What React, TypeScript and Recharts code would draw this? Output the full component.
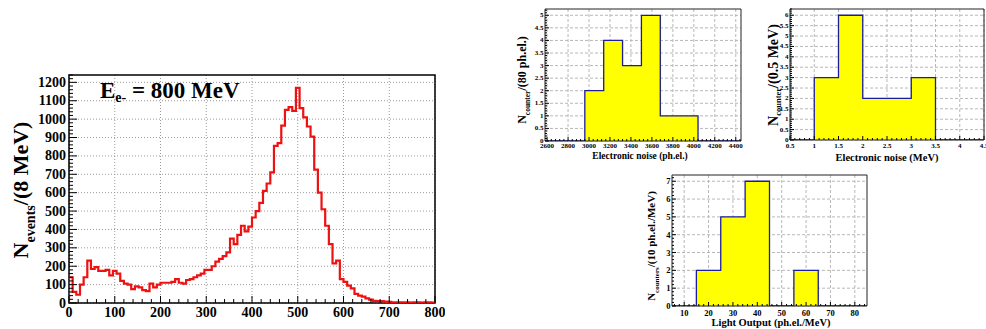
import React from 'react';
import { ComposedChart, Line, Area, XAxis, YAxis, CartesianGrid, ReferenceArea } from 'recharts';

const FONT = '"Liberation Serif", "Times New Roman", serif';

// deposited energy, 8 MeV bins from 0 to 800 MeV
const energyBinWidth = 8;
const energyCounts = [
  140, 60, 45, 100, 140, 230, 185, 195, 175, 175,
  180, 150, 175, 160, 120, 105, 100, 75, 90, 85,
  70, 65, 105, 85, 100, 110, 110, 110, 115, 130,
  110, 105, 125, 130, 140, 150, 160, 180, 180, 200,
  225, 240, 255, 275, 350, 320, 370, 420, 390, 415,
  465, 500, 545, 610, 650, 710, 855, 870, 965, 1050,
  1065, 1045, 1170, 1060, 1010, 960, 905, 725, 600, 510,
  420, 320, 215, 230, 130, 115, 95, 80, 50, 40,
  35, 25, 18, 12, 10, 10, 8, 6, 4, 3,
  3, 4, 3, 2, 3, 3, 2, 3, 3, 2,
];
const energyXTicks = [0, 100, 200, 300, 400, 500, 600, 700, 800];
const energyYTicks = [0, 100, 200, 300, 400, 500, 600, 700, 800, 900, 1000, 1100, 1200];

// electronic noise, ph.el.
const noisePhEdges = [2580, 2960, 3140, 3320, 3500, 3680, 3860, 4040, 4450];
const noisePhCounts = [0, 2, 4, 3, 5, 1, 1, 0];
const noisePhXTicks = [2600, 2800, 3000, 3200, 3400, 3600, 3800, 4000, 4200, 4400];
const noisePhYTicks = [0, 0.5, 1, 1.5, 2, 2.5, 3, 3.5, 4, 4.5, 5];

// electronic noise, MeV
const noiseMevEdges = [0.5, 1, 1.5, 2, 2.5, 3, 3.5, 4, 4.5];
const noiseMevCounts = [0, 3, 6, 2, 2, 3, 0, 0];
const noiseMevXTicks = [0.5, 1, 1.5, 2, 2.5, 3, 3.5, 4, 4.5];
const noiseMevYTicks = [0, 0.5, 1, 1.5, 2, 2.5, 3, 3.5, 4, 4.5, 5, 5.5, 6];

// light output, ph.el./MeV
const lightEdges = [5, 15, 25, 35, 45, 55, 65, 75, 85];
const lightCounts = [0, 2, 5, 7, 0, 2, 0, 0];
const lightXTicks = [10, 20, 30, 40, 50, 60, 70, 80];
const lightYTicks = [0, 1, 2, 3, 4, 5, 6, 7];

const toSteps = (edges: number[], counts: number[]) =>
  edges.map((x, i) => ({ x, n: i < counts.length ? counts[i] : counts[counts.length - 1] }));

const energySteps = [
  { x: 0, n: 0 },
  ...energyCounts.map((n, i) => ({ x: i * energyBinWidth, n })),
  { x: energyCounts.length * energyBinWidth, n: energyCounts[energyCounts.length - 1] },
];

// minor ticks between majors (k subdivisions)
function withMinor(majors: number[], k: number, lo: number, hi: number) {
  const step = (majors[1] - majors[0]) / k;
  const out: number[] = [];
  const start = majors[0] - Math.floor((majors[0] - lo) / step) * step;
  for (let v = start; v <= hi + 1e-9; v += step) out.push(Math.round(v * 1000) / 1000);
  return out;
}

const isMajor = (majors: number[], v: number) => majors.some(m => Math.abs(m - v) < 1e-6);

function makeXTick(majors: number[], fontSize: number, dy: number, len: number, minorLen: number, color = '#000') {
  return (props: any) => {
    const { x, y, payload } = props;
    const major = isMajor(majors, payload.value);
    return (
      <g>
        <line x1={x} x2={x} y1={y} y2={y - (major ? len : minorLen)} stroke={color} strokeWidth={1} />
        {major && (
          <text x={x} y={y + dy} textAnchor="middle" fontSize={fontSize} fontWeight="bold" fontFamily={FONT} fill="#000">
            {String(payload.value)}
          </text>
        )}
      </g>
    );
  };
}

function makeYTick(majors: number[], fontSize: number, gap: number, len: number, minorLen: number, color = '#000') {
  return (props: any) => {
    const { x, y, payload } = props;
    const major = isMajor(majors, payload.value);
    return (
      <g>
        <line x1={x} x2={x + (major ? len : minorLen)} y1={y} y2={y} stroke={color} strokeWidth={1} />
        {major && (
          <text x={x - gap} y={y} textAnchor="end" dominantBaseline="central" fontSize={fontSize} fontWeight="bold" fontFamily={FONT} fill="#000">
            {String(payload.value)}
          </text>
        )}
      </g>
    );
  };
}

function SmallHist({ data, xDomain, yDomain, xTicks, yTicks, xMinor, yMinor, width, height, margin, yWidth, xHeight, fs, xDy }) {
  return (
    <ComposedChart width={width} height={height} data={data} margin={margin}>
      <CartesianGrid verticalValues={xTicks} horizontalValues={yTicks} stroke="#b8b8b8" strokeDasharray="3 2" />
      <XAxis dataKey="x" type="number" domain={xDomain} ticks={withMinor(xTicks, xMinor, xDomain[0], xDomain[1])} interval={0}
        allowDataOverflow tickLine={false} axisLine={false} tickSize={0} tickMargin={0} height={xHeight}
        tick={makeXTick(xTicks, fs, xDy, 4, 2)} />
      <YAxis type="number" domain={yDomain} ticks={withMinor(yTicks, yMinor, yDomain[0], yDomain[1])} interval={0}
        allowDataOverflow tickLine={false} axisLine={false} tickSize={0} tickMargin={0} width={yWidth}
        tick={makeYTick(yTicks, fs, 1.5, 4, 2)} />
      <Area type="stepAfter" dataKey="n" stroke="#1c1c9c" strokeWidth={1.3} fill="#ffff00" fillOpacity={1}
        baseValue={0} dot={false} activeDot={false} isAnimationActive={false} />
      <ReferenceArea x1={xDomain[0]} x2={xDomain[1]} y1={yDomain[0]} y2={yDomain[1]} fill="none" stroke="#222" strokeWidth={1} ifOverflow="visible" />
    </ComposedChart>
  );
}

export default function App() {
  const eDomain = [0, 800];
  const nDomain = [0, 1240];
  return (
    <div style={{ position: 'absolute', left: 0, top: 0, width: 986, height: 329, overflow: 'hidden', background: '#fff' }}>
      <div style={{ position: 'absolute', left: 0, top: 0 }}>
        <ComposedChart width={445} height={329} data={energySteps} margin={{ top: 75, right: 10, bottom: 6, left: 0 }}>
          <CartesianGrid verticalValues={energyXTicks} horizontalValues={energyYTicks} stroke="#9a9a9a" strokeDasharray="1 2" />
          <XAxis dataKey="x" type="number" domain={eDomain} ticks={withMinor(energyXTicks, 5, 0, 800)} interval={0}
            allowDataOverflow tickLine={false} axisLine={false} tickSize={0} tickMargin={0} height={20}
            tick={makeXTick(energyXTicks, 14, 14, 7, 4)} />
          <YAxis type="number" domain={nDomain} ticks={withMinor(energyYTicks, 5, 0, 1240)} interval={0}
            allowDataOverflow tickLine={false} axisLine={false} tickSize={0} tickMargin={0} width={69}
            tick={makeYTick(energyYTicks, 14, 3, 8, 4)} />
          <Line type="stepAfter" dataKey="n" stroke="#ee1111" strokeWidth={2.2} dot={false} activeDot={false} isAnimationActive={false} />
          <ReferenceArea x1={0} x2={800} y1={0} y2={1240} fill="none" stroke="#000" strokeWidth={1.5} ifOverflow="visible" />
        </ComposedChart>
      </div>

      <div style={{ position: 'absolute', left: 480, top: 0 }}>
        <SmallHist data={toSteps(noisePhEdges, noisePhCounts)} xDomain={[2580, 4450]} yDomain={[0, 5.25]}
          xTicks={noisePhXTicks} yTicks={noisePhYTicks} xMinor={5} yMinor={5}
          width={270} height={165} margin={{ top: 9, right: 9, bottom: 0, left: 0 }} yWidth={65} xHeight={24} fs={7} xDy={7} />
      </div>

      <div style={{ position: 'absolute', left: 720, top: 0 }}>
        <SmallHist data={toSteps(noiseMevEdges, noiseMevCounts)} xDomain={[0.5, 4.5]} yDomain={[0, 6.3]}
          xTicks={noiseMevXTicks} yTicks={noiseMevYTicks} xMinor={5} yMinor={5}
          width={266} height={165} margin={{ top: 9, right: 2, bottom: 0, left: 0 }} yWidth={70} xHeight={25} fs={7} xDy={7.5} />
      </div>

      <div style={{ position: 'absolute', left: 600, top: 160 }}>
        <SmallHist data={toSteps(lightEdges, lightCounts)} xDomain={[5, 85]} yDomain={[0, 7.35]}
          xTicks={lightXTicks} yTicks={lightYTicks} xMinor={5} yMinor={5}
          width={275} height={169} margin={{ top: 15, right: 8, bottom: 0, left: 0 }} yWidth={72} xHeight={23} fs={8.5} xDy={10} />
      </div>

      <svg width={986} height={329} style={{ position: 'absolute', left: 0, top: 0, pointerEvents: 'none' }}
        fontFamily={FONT} fontWeight="bold" fill="#000">
        <text x={100} y={98} fontSize={23}>
          E<tspan fontSize={14} dy={4}>e-</tspan><tspan fontSize={23} dy={-4}> = 800 MeV</tspan>
        </text>
        <text transform="translate(28,190) rotate(-90)" textAnchor="middle" fontSize={22}>
          N<tspan fontSize={14} dy={7}>events</tspan><tspan fontSize={22} dy={-7}>/(8 MeV)</tspan>
        </text>

        <text transform="translate(526,80) rotate(-90)" textAnchor="middle" fontSize={12}>
          N<tspan fontSize={7.5} dy={4}>counter</tspan><tspan fontSize={12} dy={-4}>/(80 ph.el.)</tspan>
        </text>
        <text x={640} y={159} textAnchor="middle" fontSize={9.5}>Electronic noise (ph.el.)</text>

        <text transform="translate(778,75) rotate(-90)" textAnchor="middle" fontSize={14}>
          N<tspan fontSize={8.5} dy={3}>counter</tspan><tspan fontSize={14} dy={-3}>/(0.5 MeV)</tspan>
        </text>
        <text x={887} y={161} textAnchor="middle" fontSize={10.5}>Electronic noise (MeV)</text>

        <text transform="translate(655,246) rotate(-90)" textAnchor="middle" fontSize={11}>
          N<tspan fontSize={7} dy={3.5}>counters</tspan><tspan fontSize={11} dy={-3.5}>/(10 ph.el./MeV)</tspan>
        </text>
        <text x={771} y={326} textAnchor="middle" fontSize={10.5}>Light Output (ph.el./MeV)</text>
      </svg>
    </div>
  );
}
